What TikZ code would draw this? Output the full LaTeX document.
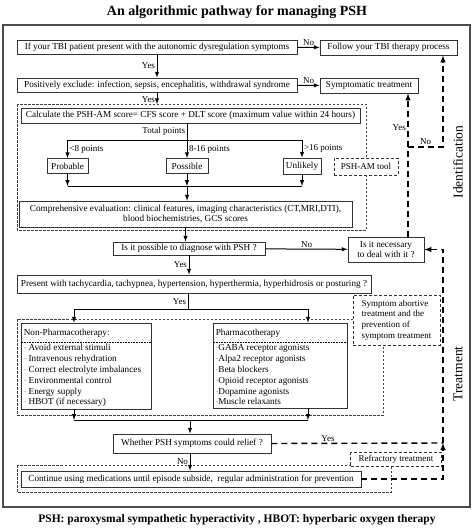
\documentclass[tikz,border=0pt]{standalone}
\usepackage{fontspec}
\setmainfont{Liberation Serif}
\usepackage{tikz}
\usetikzlibrary{positioning}
\tikzstyle{flowbox} = [draw=black!80, line width=0.8pt, fill=white, rectangle,
    inner sep=1pt, font=\fontsize{9.2}{10.4}\selectfont, align=center]
\tikzstyle{toolbox} = [draw=black!80, line width=0.6pt, densely dashed, fill=white,
    rectangle, inner sep=2pt, font=\fontsize{9}{10.6}\selectfont, align=left]
\tikzstyle{listtext} = [inner sep=0pt, align=left, font=\fontsize{9.2}{10.8}\selectfont]
\tikzstyle{region} = [draw=black!75, line width=0.6pt, dash pattern=on 2.5pt off 1.5pt]
\tikzstyle{flow} = [->, >=latex, line width=1pt]
\tikzstyle{plain} = [line width=1pt]
\tikzstyle{dflow} = [->, >=latex, line width=1.4pt, dash pattern=on 6pt off 4pt]
\tikzstyle{dline} = [line width=1.4pt, dash pattern=on 6pt off 4pt]
\tikzstyle{lbl} = [font=\fontsize{9}{10}\selectfont, inner sep=1.5pt]
\tikzstyle{headtitle} = [font=\fontsize{14}{16}\selectfont\bfseries]
\tikzstyle{sidelabel} = [font=\fontsize{13.5}{15}\selectfont, rotate=90]

\begin{document}
\begin{tikzpicture}[x=1pt,y=-1pt]
\useasboundingbox (0,0) rectangle (474,528);

\node [headtitle] (title) at (237,12) {An algorithmic pathway for managing PSH};
\draw [draw=black!70, line width=1.5pt] (3,25) rectangle (470,507);

% identification part
\node [flowbox, minimum width=280, minimum height=14] (tbi) at (157,47)
    {If your TBI patient present with the autonomic dysregulation symptoms};
\node [flowbox, minimum width=137, minimum height=15] (follow) at (388.5,47.5)
    {Follow your TBI therapy process};
\draw [flow] (tbi) -- node[lbl, above] (no1) {No} (follow);

\node [flowbox, minimum width=280, minimum height=14] (exclude) at (157,85)
    {Positively exclude: infection, sepsis, encephalitis, withdrawal syndrome};
\node [flowbox, minimum width=98, minimum height=15] (symp) at (369,85.5)
    {Symptomatic treatment};
\draw [flow] (tbi) -- node[lbl, left] (yes1) {Yes} (exclude);
\draw [flow] (exclude) -- node[lbl, above] (no2) {No} (symp);

\draw [region] (17,104) rectangle (366,230);

\node [flowbox, minimum width=339, minimum height=15] (calc) at (190.5,115.5)
    {Calculate the PSH-AM score= CFS score + DLT score (maximum value within 24 hours)};
\draw [flow, shorten >=3.5pt] (exclude.south) -- node[lbl, left] (yes2) {Yes} (exclude.south |- calc.north);

\coordinate (split) at (187,140);
\node [flowbox, minimum width=41, minimum height=15] (prob) at (67.5,166) {Probable};
\node [flowbox, minimum width=42, minimum height=15] (poss) at (187,166) {Possible};
\node [flowbox, minimum width=38, minimum height=16] (unl) at (302,166) {Unlikely};
\node [toolbox, minimum width=64, minimum height=17, align=center] (amtool) at (366,166.5) {PSH-AM tool};

\draw [plain] (calc.south -| split) -- node[lbl, left] (total) {Total points} (split);
\draw [plain] (prob.north |- split) -- (unl.north |- split);
\draw [flow] (prob.north |- split) -- node[lbl, right] (pts1) {<8 points} (prob);
\draw [flow] (split) -- node[lbl, right] (pts2) {8-16 points} (poss);
\draw [flow] (unl.north |- split) -- node[lbl, right] (pts3) {>16 points} (unl);

\coordinate (join) at (187,186);
\node [flowbox, minimum width=333, minimum height=26] (comp) at (185.5,214)
    {Comprehensive evaluation: clinical features, imaging characteristics (CT,MRI,DTI),\\
     blood biochemistries, GCS scores};
\draw [flow] (prob) -- (prob |- join);
\draw [flow] (poss) -- (join);
\draw [flow] (unl) -- (unl |- join);
\draw [plain] (prob |- join) -- (unl |- join);
\draw [flow] (join) -- (join |- comp.north);

\node [flowbox, minimum width=152, minimum height=13] (diag) at (189,248.5)
    {Is it possible to diagnose with PSH ?};
\node [flowbox, minimum width=76, minimum height=25] (nec) at (386,249.5)
    {Is it necessary\\to deal with it ?};
\draw [flow] (comp.south) -- (comp.south |- diag.north);
\draw [flow] (diag) -- node[lbl, above] (no3) {No} (nec);

% treatment part
\node [flowbox, minimum width=354, minimum height=18] (present) at (194,284)
    {Present with tachycardia, tachypnea, hypertension, hyperthermia, hyperhidrosis or posturing ?};
\draw [flow] (diag.south) -- node[lbl, left] (yes3) {Yes} (diag.south |- present.north);

\draw [region] (17,319) rectangle (383,415);
\node [toolbox, minimum width=87, minimum height=50] (abort) at (396.5,320)
    {Symptom abortive\\treatment and the\\prevention of\\symptom treatment};

\coordinate (split2) at (188,309);
\node [flowbox, minimum width=130, minimum height=86] (nonph) at (86,366) {};
\node [listtext, below right=6pt and 3pt of nonph.north west] (nonphtext)
    {Non-Pharmacotherapy:\\[5pt]
     $\cdot$ Avoid external stimuli\\
     $\cdot$ Intravenous rehydration\\
     $\cdot$ Correct electrolyte imbalances\\
     $\cdot$ Environmental control\\
     $\cdot$ Energy supply\\
     $\cdot$ HBOT (if necessary)};
\node [flowbox, minimum width=134, minimum height=85] (pharm) at (280,365.5) {};
\node [listtext, below right=6pt and 3pt of pharm.north west] (pharmtext)
    {Pharmacotherapy\\[5pt]
     $\cdot$GABA receptor agonists\\
     $\cdot$Alpa2 receptor agonists\\
     $\cdot$Beta blockers\\
     $\cdot$Opioid receptor agonists\\
     $\cdot$Dopamine agonists\\
     $\cdot$Muscle relaxants};
\draw [densely dotted, line width=0.6pt] (nonph.west |- 0,342) -- (nonph.east |- 0,342);
\draw [densely dotted, line width=0.6pt] (pharm.west |- 0,342) -- (pharm.east |- 0,342);

\coordinate (left2) at (74,309);
\coordinate (right2) at (308,309);
\draw [plain] (present.south -| split2) -- node[lbl, left] (yes4) {Yes} (split2);
\draw [plain] (left2) -- (right2);
\draw [flow] (left2) -- (left2 |- nonph.north);
\draw [flow] (right2) -- (right2 |- pharm.north);

\coordinate (join2) at (190,420);
\draw [flow] (left2 |- nonph.south) -- (left2 |- join2);
\draw [flow] (right2 |- pharm.south) -- (right2 |- join2);
\draw [plain] (left2 |- join2) -- (right2 |- join2);

\node [flowbox, minimum width=158, minimum height=19] (whether) at (192,443.5)
    {Whether PSH symptoms could relief ?};
\draw [flow] (join2) -- (join2 |- whether.north);

\draw [region] (17,465) rectangle (391,492);
\node [toolbox, minimum width=91, minimum height=14, align=center] (refr) at (396,459.5)
    {Refractory treatment};
\node [flowbox, minimum width=340, minimum height=16] (cont) at (191,479)
    {Continue using medications until episode subside,\ \ regular administration for prevention};
\draw [flow] (join2 |- whether.south) -- node[lbl, left] (no4) {No} (join2 |- cont.north);

% dashed feedback
\coordinate (rt) at (443,443);
\coordinate (branch) at (408,147);
\draw [dline] (whether.east) -- node[lbl, above, pos=0.33] (yes5) {Yes} (rt);
\draw [dflow] (cont.east) -| (rt);
\draw [dflow] (rt) |- (nec.east);
\draw [dflow] (branch |- nec.north) -- node[lbl, left, pos=0.76] (yes6) {Yes} (branch |- symp.south);
\draw [dflow] (branch) -| node[lbl, above, pos=0.25] (no5) {No} (rt |- follow.south);

\node [sidelabel] (ident) at (458,162) {Identification};
\node [sidelabel] (treat) at (458,374) {Treatment};

\node [headtitle, font=\fontsize{11.5}{13}\selectfont\bfseries] (note) at (237,520)
    {PSH: paroxysmal sympathetic hyperactivity , HBOT: hyperbaric oxygen therapy};
\end{tikzpicture}
\end{document}
